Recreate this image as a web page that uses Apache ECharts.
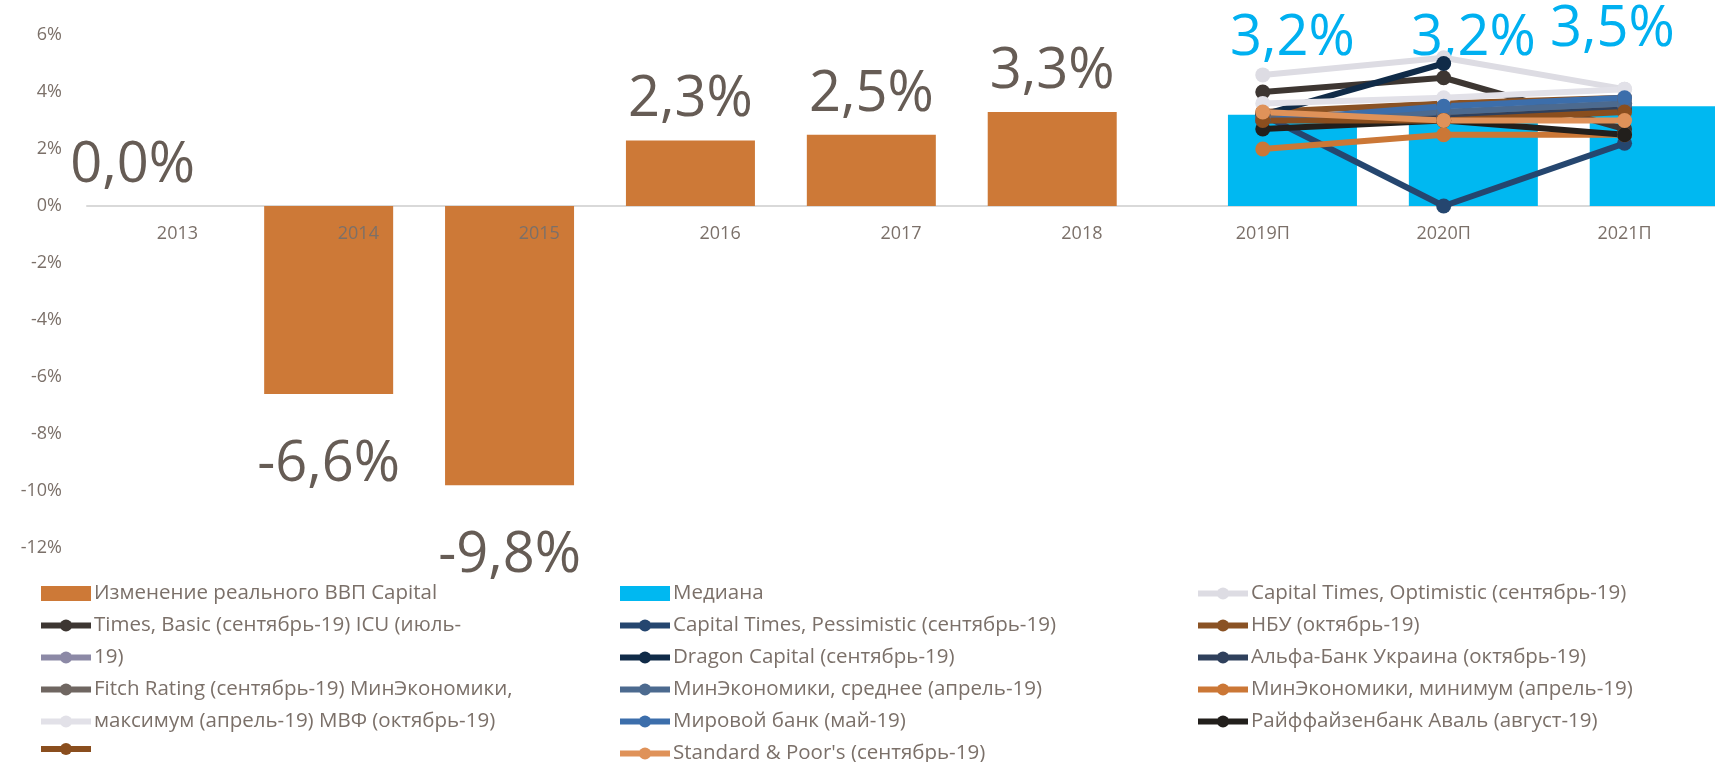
<!DOCTYPE html>
<html>
<head>
<meta charset="utf-8">
<script src="https://cdn.jsdelivr.net/npm/echarts@6/dist/echarts.min.js"></script>
<style>
  html, body { margin: 0; padding: 0; background: #fff; }
  #chart_box { width: 1715px; height: 762px; }
</style>
</head>
<body>
<div id="chart_box"></div>
<script>
// данные
var years = ['2013', '2014', '2015', '2016', '2017', '2018', '2019П', '2020П', '2021П'];
var gdp = [0.0, -6.6, -9.8, 2.3, 2.5, 3.3, null, null, null];
var median = [null, null, null, null, null, null, 3.2, 3.2, 3.5];
var yTicks = { min: -12, max: 6, step: 2 };

// прогнозы 2019П, 2020П, 2021П
var ctOptimistic = [4.6, 5.2, 4.1];
var ctBasic = [4.0, 4.5, 2.7];
var ctPessimistic = [3.2, 0.0, 2.2];
var nbu = [3.3, 3.6, 3.8];
var icu = [3.1, 3.2, 3.5];
var dragon = [3.2, 5.0, null];
var alfa = [3.0, 3.2, 3.4];
var fitch = [3.1, 3.3, 3.6];
var minecMid = [3.0, 3.3, 3.6];
var minecMin = [2.0, 2.5, 2.5];
var minecMax = [3.6, 3.8, 4.1];
var worldBank = [3.0, 3.5, 3.8];
var raiffeisen = [2.7, 3.0, 2.5];
var imf = [3.0, 3.0, 3.3];
var sp = [3.3, 3.0, 3.0];

var myChart1 = echarts.init(document.getElementById('chart_box'));

var textGray = '#7b7069';
var labelGray = '#665c55';

function pct(v) {
    return v.toFixed(1).replace('.', ',') + '%';
}

// прогнозные линии: [имя, данные, цвет]
var lines = [
    ['Capital Times, Optimistic (сентябрь-19)', ctOptimistic, '#dddce3'],
    ['Capital Times, Basic (сентябрь-19)', ctBasic, '#3d3632'],
    ['Capital Times, Pessimistic (сентябрь-19)', ctPessimistic, '#25466f'],
    ['НБУ (октябрь-19)', nbu, '#8a5224'],
    ['ICU (июль-19)', icu, '#8c89a6'],
    ['Dragon Capital (сентябрь-19)', dragon, '#102b48'],
    ['Альфа-Банк Украина (октябрь-19)', alfa, '#2f405c'],
    ['Fitch Rating (сентябрь-19)', fitch, '#6f6661'],
    ['МинЭкономики, среднее (апрель-19)', minecMid, '#4c6a8f'],
    ['МинЭкономики, минимум (апрель-19)', minecMin, '#cb7736'],
    ['МинЭкономики, максимум (апрель-19)', minecMax, '#e2e1e8'],
    ['Мировой банк (май-19)', worldBank, '#3c6eab'],
    ['Райффайзенбанк Аваль (август-19)', raiffeisen, '#221f1c'],
    ['МВФ (октябрь-19)', imf, '#8a4e1e'],
    ["Standard & Poor's (сентябрь-19)", sp, '#df9259']
];

var series = [
    {
        name: 'Изменение реального ВВП',
        type: 'bar',
        barWidth: 129,
        barGap: '-54%',
        itemStyle: { color: '#cd7937' },
        data: gdp.map(function (v) {
            if (v === null) return null;
            if (v < 0) return { value: v, label: { position: 'bottom', distance: 43 } };
            if (v === 0) return { value: v, label: { position: 'top', distance: 12, offset: [-17, 0] } };
            return { value: v, label: { position: 'top', distance: 12 } };
        }),
        label: {
            show: true,
            fontFamily: 'Open Sans',
            fontSize: 56,
            color: labelGray,
            formatter: function (p) { return pct(p.value); }
        }
    },
    {
        name: 'Медиана',
        type: 'bar',
        barWidth: 129,
        itemStyle: { color: '#00b8f1' },
        data: median.map(function (v, i) {
            if (v === null) return null;
            return i === median.length - 1 ? { value: v, label: { offset: [-40, 0] } } : v;
        }),
        label: {
            show: true,
            position: 'top',
            distance: 48,
            fontFamily: 'Open Sans',
            fontSize: 56,
            color: '#00b0f0',
            formatter: function (p) { return pct(p.value); }
        }
    }
];

lines.forEach(function (l) {
    series.push({
        name: l[0],
        type: 'line',
        data: [null, null, null, null, null, null].concat(l[1]),
        color: l[2],
        symbol: 'circle',
        symbolSize: 15,
        showAllSymbol: true,
        lineStyle: { width: 6, color: l[2] },
        itemStyle: { color: l[2] }
    });
});

// легенда в три колонки (первая колонка с переносом текста как в оригинале)
var col1 = ['Изменение реального ВВП', 'Capital Times, Basic (сентябрь-19)', 'ICU (июль-19)',
    'Fitch Rating (сентябрь-19)', 'МинЭкономики, максимум (апрель-19)', 'МВФ (октябрь-19)'];
var col1Text = ['Изменение реального ВВП Capital', 'Times, Basic (сентябрь-19) ICU (июль-', '19)',
    'Fitch Rating (сентябрь-19) МинЭкономики,', 'максимум (апрель-19) МВФ (октябрь-19)', ''];
var col2 = ['Медиана', 'Capital Times, Pessimistic (сентябрь-19)', 'Dragon Capital (сентябрь-19)',
    'МинЭкономики, среднее (апрель-19)', 'Мировой банк (май-19)', "Standard & Poor's (сентябрь-19)"];
var col3 = ['Capital Times, Optimistic (сентябрь-19)', 'НБУ (октябрь-19)', 'Альфа-Банк Украина (октябрь-19)',
    'МинЭкономики, минимум (апрель-19)', 'Райффайзенбанк Аваль (август-19)'];

function legendCol(names, left, fmt) {
    return {
        orient: 'vertical',
        left: left,
        top: 578,
        height: 240,
        itemWidth: 50,
        itemHeight: 15,
        itemGap: 11,
        selectedMode: false,
        lineStyle: { width: 6 },
        textStyle: { color: textGray, fontFamily: 'Open Sans', fontSize: 20.5, lineHeight: 20, padding: [0, 0, 0, -2] },
        formatter: fmt,
        data: names.map(function (n) {
            return (n === 'Изменение реального ВВП' || n === 'Медиана') ? { name: n, icon: 'rect' } : n;
        })
    };
}

var option = {
    animation: false,
    grid: [
        { left: 87, right: -6, top: 35, bottom: 214 },
        // верхняя часть до нулевой линии — для подписей категорий
        { left: 87, right: -6, top: 35, height: 170 }
    ],
    legend: [
        legendCol(col1, 33, function (n) { return col1Text[col1.indexOf(n)]; }),
        legendCol(col2, 612, null),
        legendCol(col3, 1190, null)
    ],
    xAxis: [
        {
            type: 'category',
            data: years,
            gridIndex: 0,
            axisTick: { show: false },
            axisLabel: { show: false },
            axisLine: { lineStyle: { color: '#d9d9d9', width: 2 } }
        },
        {
            type: 'category',
            data: years,
            gridIndex: 1,
            position: 'bottom',
            z: 10,
            axisTick: { show: false },
            axisLine: { show: false },
            axisLabel: { color: textGray, fontFamily: 'Open Sans', fontSize: 18, margin: 20 }
        }
    ],
    yAxis: [
        {
            type: 'value',
            gridIndex: 0,
            min: yTicks.min,
            max: yTicks.max,
            interval: yTicks.step,
            splitLine: { show: false },
            axisLine: { show: false },
            axisTick: { show: false },
            axisLabel: { color: textGray, fontFamily: 'Open Sans', fontSize: 18, margin: 25, formatter: '{value}%' }
        },
        {
            type: 'value',
            gridIndex: 1,
            min: 0,
            max: 1,
            show: false
        }
    ],
    series: series
};

myChart1.setOption(option);
</script>
</body>
</html>
